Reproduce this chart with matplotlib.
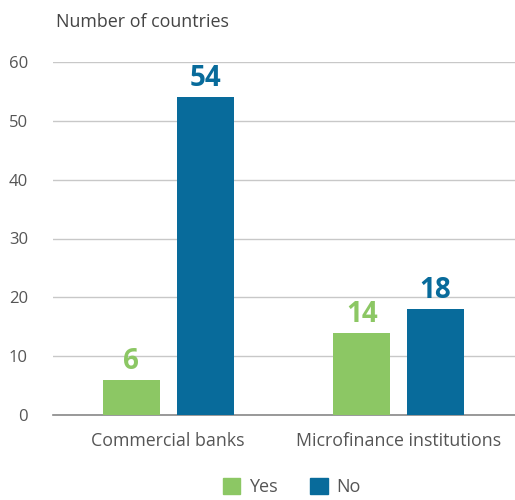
import matplotlib
matplotlib.use("Agg")
import matplotlib.pyplot as plt
import numpy as np
from matplotlib.patches import Patch

categories = ["Commercial banks", "Microfinance institutions"]
yes_values = [6, 14]
no_values = [54, 18]
series_names = ["Yes", "No"]
yticks = [0, 10, 20, 30, 40, 50, 60]

GREEN = "#8cc764"
BLUE = "#086b9b"
TEXT = "#555555"

plt.rcParams["font.family"] = ["Open Sans", "DejaVu Sans"]

fig = plt.figure(figsize=(5.15, 5.0), dpi=100)
ax = fig.add_axes([53/515, 85/500, 1 - 53/515, (415-62)/500])

x = np.arange(len(categories))
off = 0.16
w = 0.247
b1 = ax.bar(x - off, yes_values, w, color=GREEN, zorder=3)
b2 = ax.bar(x + off, no_values, w, color=BLUE, zorder=3)

for bars, vals, col in [(b1, yes_values, GREEN), (b2, no_values, BLUE)]:
    for r, v in zip(bars, vals):
        ax.text(r.get_x() + r.get_width()/2, v + 0.7, str(v), ha="center", va="bottom",
                fontsize=20, fontweight="bold", color=col, clip_on=False)

ax.set_xlim(-0.5, 1.505)
ax.set_ylim(0, 60)
ax.set_yticks(yticks)
ax.set_yticklabels([str(t) for t in yticks])
ax.yaxis.grid(True, color="#c8c8c8", linewidth=1)
ax.set_axisbelow(True)
for s in ["top", "right", "left"]:
    ax.spines[s].set_visible(False)
ax.spines["bottom"].set_color("#888888")
ax.spines["bottom"].set_linewidth(1.2)
ax.tick_params(axis="y", length=0, pad=18, labelsize=12, labelcolor=TEXT)
ax.set_xticks(x)
ax.set_xticklabels(categories)
ax.tick_params(axis="x", length=0, pad=12, labelsize=12.8, labelcolor=TEXT)

fig.text(56/515, 1 - 22/500, "Number of countries", ha="left", va="center",
         fontsize=12.9, color="#444444")

handles = [Patch(color=GREEN), Patch(color=BLUE)]
fig.legend(handles, series_names, loc="center", bbox_to_anchor=(292/515, 1 - 487/500),
           ncol=2, frameon=False, fontsize=13, labelcolor=TEXT,
           handlelength=0.95, handleheight=0.95, handletextpad=0.5, columnspacing=1.8)

fig.savefig("out.png", dpi=100)
